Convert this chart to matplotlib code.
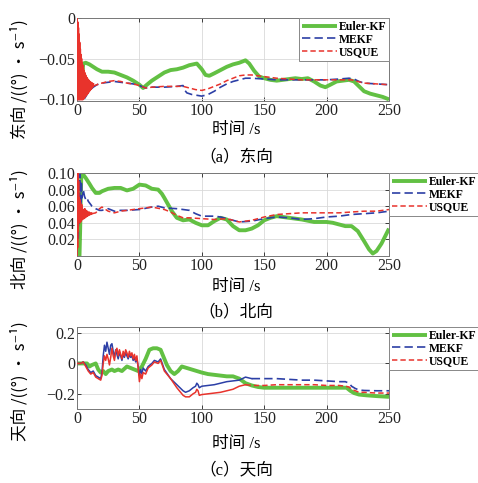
"""
Gyro bias estimates (east / north / up) for Euler-KF, MEKF and USQUE
"""

import numpy as np
import matplotlib
matplotlib.use('Agg')
import matplotlib.pyplot as plt

plt.rcParams['font.family'] = ['Liberation Serif', 'Noto Sans CJK SC', 'DejaVu Sans']
plt.rcParams['axes.unicode_minus'] = True

# ---------------- data ----------------
labels = ['Euler-KF', 'MEKF', 'USQUE']

# (a) east
east_kf_t = [2, 4, 5, 7, 10, 13, 16, 20, 25, 30,
             35, 40, 45, 50, 53, 56, 60, 65, 70, 75,
             80, 85, 90, 93, 96, 100, 103, 106, 110, 115,
             120, 125, 130, 135, 138, 142, 146, 150, 155, 160,
             165, 170, 175, 180, 185, 190, 195, 199, 203, 208,
             213, 218, 222, 226, 230, 235, 240, 245, 250]
east_kf = [-0.100, -0.075, -0.056, -0.055, -0.057, -0.060, -0.063, -0.066, -0.066, -0.067,
           -0.070, -0.073, -0.077, -0.082, -0.086, -0.082, -0.077, -0.072, -0.067, -0.064,
           -0.063, -0.061, -0.058, -0.057, -0.056, -0.063, -0.070, -0.071, -0.068, -0.064,
           -0.060, -0.057, -0.055, -0.052, -0.056, -0.065, -0.072, -0.074, -0.076, -0.077,
           -0.076, -0.075, -0.074, -0.075, -0.074, -0.078, -0.083, -0.085, -0.082, -0.078,
           -0.077, -0.076, -0.078, -0.084, -0.090, -0.093, -0.095, -0.097, -0.100]

east_mekf_t = [0, 0.5, 1, 3, 5, 6, 8, 10, 13, 16,
               20, 25, 30, 35, 40, 45, 50, 55, 60, 70,
               80, 85, 86, 88, 92, 96, 100, 105, 110, 115,
               120, 125, 130, 135, 140, 150, 160, 170, 180, 190,
               200, 210, 218, 222, 226, 230, 240, 250]
east_mekf = [0.0, -0.06, -0.1, -0.1, -0.1, -0.099, -0.094, -0.089, -0.085, -0.082,
             -0.080, -0.079, -0.078, -0.079, -0.080, -0.081, -0.083, -0.086, -0.085, -0.085,
             -0.084, -0.083, -0.088, -0.092, -0.094, -0.095, -0.096, -0.094, -0.090, -0.085,
             -0.081, -0.078, -0.076, -0.074, -0.074, -0.075, -0.076, -0.076, -0.076, -0.076,
             -0.076, -0.075, -0.074, -0.075, -0.078, -0.080, -0.081, -0.082]

# USQUE start-up transient, one sample every 0.25 s from t = 0
east_usque_start = [0.0, -0.1, -0.005, -0.1, -0.012, -0.1, -0.02, -0.1, -0.03, -0.1,
                    -0.038, -0.1, -0.045, -0.1, -0.05, -0.1, -0.055, -0.1, -0.058, -0.1,
                    -0.062, -0.099, -0.065, -0.098, -0.067, -0.097, -0.069, -0.096, -0.071, -0.095,
                    -0.073, -0.094, -0.074, -0.093, -0.075, -0.092, -0.076, -0.091, -0.077, -0.090,
                    -0.078, -0.089, -0.079, -0.088, -0.079, -0.087, -0.080, -0.086, -0.080, -0.085,
                    -0.081, -0.084, -0.081]
east_usque_t = [13, 14, 16, 18, 20, 25, 30, 35, 40, 45,
                50, 55, 60, 70, 80, 85, 90, 95, 100, 105,
                110, 115, 120, 125, 130, 135, 140, 150, 160, 170,
                180, 190, 200, 210, 220, 225, 230, 240, 250]
east_usque = [-0.083, -0.083, -0.082, -0.080, -0.080, -0.078, -0.077, -0.078, -0.080, -0.081,
              -0.083, -0.086, -0.085, -0.084, -0.084, -0.084, -0.086, -0.088, -0.089, -0.087,
              -0.084, -0.081, -0.077, -0.074, -0.071, -0.070, -0.070, -0.072, -0.074, -0.075,
              -0.076, -0.076, -0.076, -0.076, -0.076, -0.078, -0.080, -0.081, -0.082]

# (b) north
north_kf_t = [2, 2.5, 3, 3.5, 4, 5, 7, 10, 12, 15,
              18, 20, 25, 30, 35, 40, 45, 50, 55, 60,
              65, 68, 70, 73, 76, 80, 85, 90, 95, 100,
              105, 110, 115, 120, 125, 130, 135, 140, 145, 150,
              155, 160, 165, 170, 180, 190, 200, 205, 210, 215,
              220, 225, 230, 234, 237, 240, 244, 250]
north_kf = [0.0, 0.03, 0.07, 0.1, 0.1, 0.098, 0.094, 0.087, 0.082, 0.076,
            0.076, 0.078, 0.081, 0.082, 0.082, 0.079, 0.081, 0.086, 0.085, 0.081,
            0.080, 0.075, 0.070, 0.062, 0.054, 0.046, 0.043, 0.044, 0.040, 0.037,
            0.037, 0.042, 0.046, 0.044, 0.036, 0.031, 0.031, 0.033, 0.037, 0.043,
            0.046, 0.048, 0.047, 0.046, 0.044, 0.041, 0.041, 0.040, 0.038, 0.036,
            0.036, 0.030, 0.018, 0.008, 0.003, 0.006, 0.015, 0.033]

north_mekf_t = [0, 0.5, 1, 1.5, 2, 2.5, 3, 3.5, 4, 5,
                6, 7, 8, 9, 10, 12, 15, 18, 20, 25,
                30, 35, 40, 50, 60, 65, 70, 80, 90, 95,
                100, 110, 115, 120, 130, 140, 150, 160, 170, 180,
                190, 200, 210, 220, 230, 240, 250]
north_mekf = [0.0, 0.1, 0.02, 0.1, 0.04, 0.1, 0.06, 0.09, 0.07, 0.08,
              0.072, 0.068, 0.07, 0.066, 0.064, 0.06, 0.057, 0.055, 0.055, 0.057,
              0.054, 0.055, 0.055, 0.056, 0.059, 0.060, 0.058, 0.057, 0.055, 0.051,
              0.048, 0.048, 0.047, 0.045, 0.041, 0.042, 0.045, 0.047, 0.046, 0.044,
              0.045, 0.047, 0.048, 0.050, 0.051, 0.052, 0.054]

north_usque_start = [0.0, 0.08, 0.01, 0.10, 0.03, 0.09, 0.04, 0.07, 0.045, 0.068,
                     0.04, 0.065, 0.045, 0.06, 0.042, 0.062, 0.046, 0.058, 0.044, 0.056,
                     0.047, 0.055, 0.045, 0.054, 0.048, 0.057, 0.046, 0.053, 0.049, 0.055,
                     0.047, 0.052, 0.050, 0.054, 0.048, 0.053, 0.050, 0.052, 0.049, 0.053,
                     0.050, 0.051, 0.050, 0.052, 0.050, 0.051, 0.051, 0.052, 0.051]
north_usque_t = [12, 15, 18, 20, 22, 25, 30, 35, 40, 50,
                 60, 70, 75, 80, 85, 90, 100, 110, 120, 125,
                 130, 140, 150, 160, 170, 180, 190, 200, 210, 220,
                 230, 240, 250]
north_usque = [0.051, 0.052, 0.057, 0.059, 0.057, 0.054, 0.052, 0.054, 0.055, 0.057,
               0.059, 0.056, 0.053, 0.049, 0.046, 0.046, 0.045, 0.044, 0.045, 0.043,
               0.041, 0.043, 0.047, 0.050, 0.051, 0.052, 0.052, 0.052, 0.052, 0.053,
               0.054, 0.054, 0.056]

# (c) up
up_kf_t = [0, 5, 8, 10, 12, 15, 17, 19, 21, 23,
           25, 28, 30, 33, 36, 40, 43, 46, 49, 52,
           55, 58, 61, 64, 67, 69, 72, 75, 78, 81,
           84, 88, 92, 96, 100, 105, 110, 115, 120, 125,
           130, 135, 140, 145, 150, 170, 190, 210, 216, 219,
           222, 226, 232, 240, 250]
up_kf = [0.0, 0.0, 0.0, -0.02, -0.01, 0.0, -0.04, -0.06, -0.05, -0.07,
         -0.05, -0.04, -0.05, -0.04, -0.05, -0.02, -0.03, -0.04, -0.05, -0.02,
         0.03, 0.09, 0.10, 0.10, 0.09, 0.05, -0.01, -0.05, -0.07, -0.05,
         -0.02, -0.03, -0.04, -0.05, -0.06, -0.07, -0.075, -0.08, -0.085, -0.085,
         -0.10, -0.13, -0.145, -0.155, -0.16, -0.16, -0.16, -0.16, -0.16, -0.18,
         -0.195, -0.205, -0.21, -0.215, -0.22]

up_t = [0, 3, 5, 7, 9, 11, 13, 15, 17, 19,
        20, 21, 22, 23, 24, 25, 26, 27, 28, 29,
        30, 31, 32, 33, 34, 35, 36, 37, 38, 39,
        40, 41, 42, 43, 44, 45, 46, 47, 48, 49,
        50, 51, 52, 53, 55, 57, 60, 62, 65, 67,
        70, 75, 80, 85, 87, 90, 93, 95, 96, 97,
        98, 100, 105, 110, 115, 120, 125, 130, 135, 140,
        150, 160, 170, 180, 190, 200, 210, 215, 218, 220,
        223, 226, 230, 240, 250]
up_mekf = [0.0, 0.0, 0.01, -0.01, -0.04, -0.06, -0.05, -0.08, -0.09, -0.10,
           -0.06, 0.05, 0.12, 0.08, 0.14, 0.10, 0.06, 0.12, 0.13, 0.08,
           0.04, 0.09, 0.06, 0.03, 0.07, 0.05, 0.02, 0.06, 0.04, 0.07,
           0.05, 0.03, 0.06, 0.04, 0.05, 0.02, 0.04, 0.01, 0.03, -0.02,
           -0.08, -0.04, -0.07, -0.03, -0.05, -0.02, 0.0, 0.02, 0.01, 0.03,
           -0.04, -0.10, -0.14, -0.18, -0.19, -0.18, -0.16, -0.15, -0.13, -0.14,
           -0.16, -0.15, -0.145, -0.14, -0.13, -0.12, -0.115, -0.11, -0.09, -0.10,
           -0.10, -0.10, -0.105, -0.11, -0.11, -0.115, -0.12, -0.12, -0.13, -0.15,
           -0.165, -0.175, -0.178, -0.18, -0.18]
up_usque = [0.0, 0.0, 0.01, -0.02, -0.05, -0.07, -0.06, -0.09, -0.10, -0.11,
            -0.08, 0.0, 0.05, 0.02, 0.06, 0.03, -0.01, 0.04, 0.10, 0.05,
            0.02, 0.08, 0.10, 0.05, 0.09, 0.06, 0.03, 0.08, 0.05, 0.09,
            0.07, 0.04, 0.08, 0.05, 0.07, 0.03, 0.06, 0.02, 0.05, -0.03,
            -0.12, -0.07, -0.10, -0.06, -0.07, -0.03, -0.01, 0.01, 0.0, 0.02,
            -0.05, -0.10, -0.16, -0.21, -0.22, -0.22, -0.20, -0.19, -0.17, -0.18,
            -0.21, -0.205, -0.20, -0.195, -0.19, -0.18, -0.17, -0.15, -0.14, -0.145,
            -0.145, -0.14, -0.14, -0.14, -0.14, -0.145, -0.145, -0.15, -0.155, -0.17,
            -0.18, -0.19, -0.19, -0.195, -0.195]

x_ticks = [0, 50, 100, 150, 200, 250]

# ---------------- style ----------------
GREEN = '#62c043'
BLUE = '#2c3fa6'
RED = '#e8332c'
W, H = 478, 483
CJK = ['Noto Sans CJK SC', 'DejaVu Sans']


def fx(px):
    return px / W


def fy(py):
    return 1 - py / H


fig = plt.figure(figsize=(W / 100, H / 100), dpi=100)

panels = [
    # top px, bottom px, ylim, yticks, yticklabels
    (18, 101, (-0.102, 0), [-0.10, -0.05, 0], ['−0.10', '−0.05', '0']),
    (173, 256, (0, 0.1), [0.02, 0.04, 0.06, 0.08, 0.10],
     ['0.02', '0.04', '0.06', '0.08', '0.10']),
    (327, 409, (-0.3, 0.24), [-0.2, 0, 0.2], ['−0.2', '0', '0.2']),
]
ylabels = ['东向 /((°) · s⁻¹)', '北向 /((°) · s⁻¹)', '天向 /((°) · s⁻¹)']
captions = ['（a）东向', '（b）北向', '（c）天向']
xlab_y = [130, 287, 444]
cap_y = [157, 312, 470]
ylab_bottom = [139, 289, 441]

axes = []
for i, (top, bot, ylim, yt, ytl) in enumerate(panels):
    ax = fig.add_axes([fx(77), fy(bot), fx(389) - fx(77), (bot - top) / H])
    ax.set_xlim(0, 250)
    ax.set_ylim(*ylim)
    ax.set_xticks(x_ticks)
    ax.set_yticks(yt)
    ax.set_yticklabels(ytl)
    ax.grid(True, color='#d9d9d9', linewidth=0.6)
    ax.set_axisbelow(True)
    ax.tick_params(direction='in', length=3, width=0.6, top=True, right=True,
                   labelsize=11.5, pad=1.5, colors='#222222')
    for sp in ax.spines.values():
        sp.set_color('#777777')
        sp.set_linewidth(0.7)
    fig.text(fx(236), fy(xlab_y[i]), '时间 /s', ha='center', va='center',
             fontsize=12)
    fig.text(fx(236), fy(cap_y[i]), captions[i], ha='center', va='center',
             fontsize=12)
    fig.text(fx(20), fy(ylab_bottom[i]), ylabels[i], rotation=90,
             ha='center', va='bottom', fontsize=12, family=CJK)
    axes.append(ax)

ax_a, ax_b, ax_c = axes
kf_kw = dict(color=GREEN, linewidth=2.8, solid_capstyle='butt')
mekf_kw = dict(color=BLUE, linewidth=1.2, dashes=(5, 2.5))
usque_kw = dict(color=RED, linewidth=1.1, dashes=(3.5, 2))

# (a)
ax_a.plot(np.arange(len(east_usque_start)) * 0.25, east_usque_start,
          color=RED, linewidth=1.4, zorder=3)
ax_a.plot(east_kf_t, east_kf, label=labels[0], zorder=2, **kf_kw)
ax_a.plot(east_mekf_t, east_mekf, label=labels[1], zorder=2.5, **mekf_kw)
ax_a.plot(east_usque_t, east_usque, label=labels[2], zorder=2.6, **usque_kw)

# (b)
ax_b.plot(north_kf_t, north_kf, label=labels[0], zorder=2, **kf_kw)
ax_b.plot(north_mekf_t, north_mekf, label=labels[1], zorder=2.5, **mekf_kw)
ax_b.plot(np.arange(len(north_usque_start)) * 0.25, north_usque_start,
          color=RED, linewidth=1.1, zorder=3)
ax_b.plot(north_usque_t, north_usque, label=labels[2], zorder=2.6, **usque_kw)

# (c) solid up to ~135 s, dashed afterwards
ax_c.plot(up_t[:69], up_usque[:69], color=RED, linewidth=1.1, zorder=2.6)
ax_c.plot(up_t[:70], up_mekf[:70], color=BLUE, linewidth=1.1, zorder=2.5)
ax_c.plot(up_kf_t, up_kf, label=labels[0], zorder=2, **kf_kw)
ax_c.plot(up_t[69:], up_mekf[69:], label=labels[1], zorder=2.5, **mekf_kw)
ax_c.plot(up_t[68:], up_usque[68:], label=labels[2], zorder=2.6, **usque_kw)

leg_kw = dict(prop={'family': 'Liberation Serif', 'weight': 'bold', 'size': 8.5},
              handlelength=3.0, handletextpad=0.1, labelspacing=0.05,
              borderpad=0.25, fancybox=False, framealpha=1)
for ax, loc in [(ax_a, 'upper right'), (ax_b, 'upper left'), (ax_c, 'upper left')]:
    leg = ax.legend(loc=loc, bbox_to_anchor=(1.0, 1.0), borderaxespad=0, **leg_kw)
    leg.get_frame().set_edgecolor('#888888')
    leg.get_frame().set_linewidth(0.7)

fig.savefig('out.png', dpi=100)
